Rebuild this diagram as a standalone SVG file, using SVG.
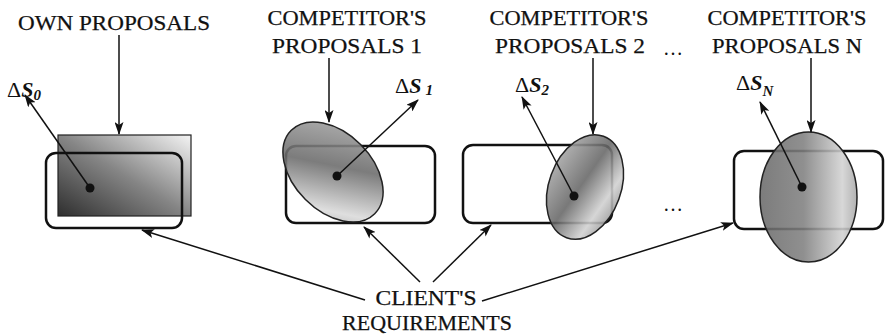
<svg xmlns="http://www.w3.org/2000/svg" width="886" height="334" viewBox="0 0 886 334">
<style>
.lbl{font-family:"Liberation Serif","Times New Roman",serif;font-size:21px;fill:#111;text-anchor:middle;stroke:#111;stroke-width:0.25}
.d{font-family:"Liberation Serif","Times New Roman",serif;font-size:22px;fill:#111}
.s{font-weight:bold;font-style:italic}
.sub{font-style:italic;font-weight:bold;font-size:15px}
.req{fill:none;stroke:#111;stroke-width:2.5}
.sh{stroke:#222;stroke-width:1.5;fill-opacity:0.88}
.c{stroke:#111;stroke-width:1.5;fill:none;marker-end:url(#ah)}
.dot{fill:#111}
.ell{font-family:"Liberation Serif","Times New Roman",serif;font-size:20px;fill:#111;text-anchor:middle}
</style>
<defs>
<marker id="ah" markerUnits="userSpaceOnUse" markerWidth="13" markerHeight="9" refX="12" refY="4.5" orient="auto">
<path d="M0,0 L13,4.5 L0,9 L3,4.5 z" fill="#111"/>
</marker>
<linearGradient id="g0" x1="0" y1="1" x2="1" y2="0">
<stop offset="0" stop-color="#2e2e2e"/>
<stop offset="0.5" stop-color="#858585"/>
<stop offset="1" stop-color="#f4f4f4"/>
</linearGradient>
<linearGradient id="g1" x1="0" y1="0" x2="1" y2="1">
<stop offset="0" stop-color="#b0b0b0"/>
<stop offset="0.45" stop-color="#6a6a6a"/>
<stop offset="0.8" stop-color="#dadada"/>
<stop offset="1" stop-color="#a0a0a0"/>
</linearGradient>
<linearGradient id="g2" x1="0" y1="0.3" x2="1" y2="0.7">
<stop offset="0" stop-color="#a8a8a8"/>
<stop offset="0.45" stop-color="#666"/>
<stop offset="0.8" stop-color="#d0d0d0"/>
<stop offset="1" stop-color="#999"/>
</linearGradient>
<linearGradient id="gN" x1="0" y1="0" x2="1" y2="0">
<stop offset="0" stop-color="#6a6a6a"/>
<stop offset="0.45" stop-color="#808080"/>
<stop offset="0.85" stop-color="#d2d2d2"/>
<stop offset="1" stop-color="#a8a8a8"/>
</linearGradient>
</defs>
<rect width="886" height="334" fill="#fff"/>

<g id="own">
<rect x="58" y="135" width="133" height="81" fill="url(#g0)" stroke="#222" stroke-width="1.2"/>
<rect class="req" x="46" y="153" width="136" height="75" rx="10"/>
<circle class="dot" cx="90" cy="188" r="4.5"/>
<text class="lbl" x="114" y="30" textLength="192" lengthAdjust="spacingAndGlyphs">OWN PROPOSALS</text>
<text class="d" x="7" y="97">Δ<tspan class="s">S</tspan><tspan class="sub" dy="3">0</tspan></text>
</g>

<g id="comp1">
<rect class="req" x="286" y="146" width="149" height="77" rx="10"/>
<ellipse class="sh" cx="333" cy="172" rx="59" ry="39" transform="rotate(45 333 172)" fill="url(#g1)"/>
<circle class="dot" cx="337" cy="176" r="4.5"/>
<text class="lbl" x="347" y="25" textLength="159" lengthAdjust="spacingAndGlyphs">COMPETITOR'S</text>
<text class="lbl" x="347" y="53" textLength="150" lengthAdjust="spacingAndGlyphs">PROPOSALS 1</text>
<text class="d" x="395" y="93">Δ<tspan class="s">S</tspan><tspan class="sub" dx="4" dy="2">1</tspan></text>
</g>

<g id="comp2">
<rect class="req" x="463" y="145" width="149" height="78" rx="10"/>
<ellipse class="sh" cx="585" cy="187" rx="36" ry="54" transform="rotate(20 585 187)" fill="url(#g2)"/>
<circle class="dot" cx="574" cy="196" r="4.5"/>
<text class="lbl" x="569" y="25" textLength="159" lengthAdjust="spacingAndGlyphs">COMPETITOR'S</text>
<text class="lbl" x="570" y="53" textLength="150" lengthAdjust="spacingAndGlyphs">PROPOSALS 2</text>
<text class="d" x="515" y="92">Δ<tspan class="s">S</tspan><tspan class="sub" dy="3">2</tspan></text>
</g>

<g id="compN">
<rect class="req" x="734" y="151" width="149" height="78" rx="10"/>
<ellipse class="sh" cx="808.5" cy="197" rx="48.5" ry="65" fill="url(#gN)"/>
<circle class="dot" cx="802" cy="187" r="4.5"/>
<text class="lbl" x="787" y="25" textLength="159" lengthAdjust="spacingAndGlyphs">COMPETITOR'S</text>
<text class="lbl" x="787" y="53" textLength="150" lengthAdjust="spacingAndGlyphs">PROPOSALS N</text>
<text class="d" x="736" y="90">Δ<tspan class="s">S</tspan><tspan class="sub" dy="6">N</tspan></text>
</g>

<g id="dots">
<text class="ell" x="673" y="55">…</text>
<text class="ell" x="673" y="211">…</text>
</g>

<g id="client">
<text class="lbl" x="426" y="305" textLength="101" lengthAdjust="spacingAndGlyphs">CLIENT'S</text>
<text class="lbl" x="427" y="330" textLength="170" lengthAdjust="spacingAndGlyphs">REQUIREMENTS</text>
</g>

<g id="connectors">
<line class="c" x1="119" y1="35" x2="119" y2="134"/>
<line class="c" x1="329" y1="58" x2="329" y2="122"/>
<line class="c" x1="593" y1="58" x2="593" y2="134"/>
<line class="c" x1="811" y1="58" x2="811" y2="132"/>
<line class="c" x1="90" y1="188" x2="25" y2="95"/>
<line class="c" x1="337" y1="176" x2="418" y2="100"/>
<line class="c" x1="574" y1="196" x2="522" y2="97"/>
<line class="c" x1="802" y1="187" x2="760" y2="102"/>
<line class="c" x1="365" y1="300" x2="142" y2="230"/>
<line class="c" x1="420" y1="282" x2="364" y2="227"/>
<line class="c" x1="433" y1="282" x2="491" y2="225"/>
<line class="c" x1="482" y1="301" x2="733" y2="223"/>
</g>
</svg>
